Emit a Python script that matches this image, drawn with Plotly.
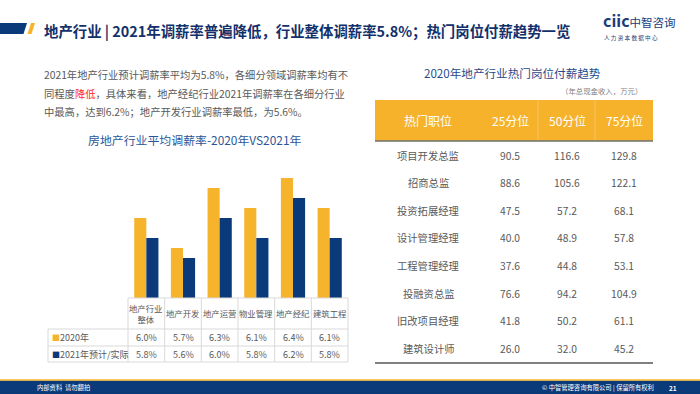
import plotly.graph_objects as go

W, H = 700, 394
def X(px): return px / W
def Y(py): return 1 - py / H

FONT = "Noto Sans CJK SC"
NAVY = "#0B3A7A"
GOLD = "#F6B42C"
GRAY = "#595959"

# ---------------- data ----------------
categories = ["地产行业<br>整体", "地产开发", "地产运营", "物业管理", "地产经纪", "建筑工程"]
rate_2020 = [6.0, 5.7, 6.3, 6.1, 6.4, 6.1]
rate_2021 = [5.8, 5.6, 6.0, 5.8, 6.2, 5.8]
series_names = ["2020年", "2021年预计/实际"]

table_headers = ["热门职位", "25分位", "50分位", "75分位"]
jobs = ["项目开发总监", "招商总监", "投资拓展经理", "设计管理经理",
        "工程管理经理", "投融资总监", "旧改项目经理", "建筑设计师"]
p25 = [90.5, 88.6, 47.5, 40.0, 37.6, 76.6, 41.8, 26.0]
p50 = [116.6, 105.6, 57.2, 48.9, 44.8, 94.2, 50.2, 32.0]
p75 = [129.8, 122.1, 68.1, 57.8, 53.1, 104.9, 61.1, 45.2]

title = "地产行业 | 2021年调薪率普遍降低，行业整体调薪率5.8%；热门岗位付薪趋势一览"
para = [
    "2021年地产行业预计调薪率平均为5.8%，各细分领域调薪率均有不",
    "同程度<span style='color:#FF2A2A'>降低</span>，具体来看，地产经纪行业2021年调薪率在各细分行业",
    "中最高，达到6.2%；地产开发行业调薪率最低，为5.6%。",
]
chart_title = "房地产行业平均调薪率-2020年VS2021年"
table_title = "2020年地产行业热门岗位付薪趋势"
table_unit = "（年总现金收入，万元）"

# ---------------- figure ----------------
fig = go.Figure()
xs = list(range(len(categories)))
fig.add_trace(go.Bar(x=xs, y=rate_2020, name=series_names[0], marker_color=GOLD,
                     marker_line_width=0, hoverinfo="skip"))
fig.add_trace(go.Bar(x=xs, y=rate_2021, name=series_names[1], marker_color=NAVY,
                     marker_line_width=0, hoverinfo="skip"))

TX0, TX1 = 128, 348
fig.update_layout(
    width=W, height=H, margin=dict(l=0, r=0, t=0, b=0),
    paper_bgcolor="white", plot_bgcolor="rgba(0,0,0,0)",
    showlegend=False, barmode="group", bargap=0.34, bargroupgap=0,
    font=dict(family=FONT, color=GRAY),
    xaxis=dict(domain=[X(TX0), X(TX1)], range=[-0.5, len(categories) - 0.5],
               visible=False, fixedrange=True),
    yaxis=dict(domain=[Y(298), Y(148)], range=[5.2, 6.7], visible=False, fixedrange=True),
)

shapes = []
ann = []

def line(x0, y0, x1, y1, color, width=1, xref="paper"):
    shapes.append(dict(type="line", xref=xref, yref="paper",
                       x0=x0, y0=Y(y0), x1=x1, y1=Y(y1),
                       line=dict(color=color, width=width)))

def text(x, y, s, size, color=GRAY, xanchor="center", xref="paper", bold=False):
    ann.append(dict(x=x if xref != "paper" else X(x), y=Y(y), xref=xref, yref="paper",
                    text=f"<b>{s}</b>" if bold else s, showarrow=False,
                    xanchor=xanchor, yanchor="middle",
                    font=dict(size=size, color=color, family=FONT)))

# ---- header ----
def poly(pts, color):
    d = "M " + " L ".join(f"{X(a)},{Y(b)}" for a, b in pts) + " Z"
    shapes.append(dict(type="path", xref="paper", yref="paper", path=d,
                       fillcolor=color, line=dict(width=0)))

poly([(0, 23), (27, 23), (23.5, 34), (0, 34)], NAVY)
poly([(31, 23), (35, 23), (31.5, 34), (27.5, 34)], GOLD)
text(42, 30, title, 14.4, color="#12306A", xanchor="left", bold=True)

# logo
text(601, 20, "<span style='font-size:16px'><b>ciic</b></span>"
     "<span style='font-size:11.5px'>中智咨询</span>", 12, color="#1D3C78", xanchor="left")
text(602, 38, "人 力 资 本 数 据 中 心", 5.6, color="#1D3C78", xanchor="left")

# ---- paragraph ----
for i, s in enumerate(para):
    text(42, 75 + 18.5 * i, s, 10.3, color=GRAY, xanchor="left")

# ---- bar chart title ----
text(195, 140, chart_title, 11.9, color="#2B5597")

# ---- data table under bars ----
GRID = "#D9D9D9"
slot = (TX1 - TX0) / len(categories)
line(X(TX0), 298, X(TX1), 298, GRID)
for yy in (329, 346, 362):
    line(X(48), yy, X(TX1), yy, GRID)
for i in range(len(categories) + 1):
    line(X(TX0 + slot * i), 298, X(TX0 + slot * i), 362, GRID)
line(X(48), 329, X(48), 362, GRID)

for i, c in enumerate(categories):
    text(i, 313, c, 8.4, color=GRAY, xref="x")
    text(i, 337.5, f"{rate_2020[i]:.1f}%", 9, color=GRAY, xref="x")
    text(i, 354, f"{rate_2021[i]:.1f}%", 9, color=GRAY, xref="x")

text(50, 337.5, f"<span style='color:{GOLD};font-size:8px'>■</span>{series_names[0]}", 9,
     color=GRAY, xanchor="left")
text(50, 354, f"<span style='color:{NAVY};font-size:8px'>■</span>{series_names[1]}", 9,
     color=GRAY, xanchor="left")

# ---- right table ----
text(512, 73, table_title, 11.6, color="#1F4A8A")
text(644, 90, table_unit, 7.4, color="#7F7F7F", xanchor="right")

RX0, RX1 = 375, 653
shapes.append(dict(type="rect", xref="paper", yref="paper",
                   x0=X(RX0), x1=X(RX1), y0=Y(141), y1=Y(100),
                   fillcolor="#F5B22A", line=dict(width=0)))
line(X(538), 100, X(538), 141, "rgba(255,255,255,0.25)", 1)
line(X(595), 100, X(595), 141, "rgba(255,255,255,0.25)", 1)
line(X(RX0), 141, X(RX1), 141, "#6F6F6F", 1.5)
line(X(RX0), 363, X(RX1), 363, "#808080", 2)

col_x = [428, 510, 567, 624]
for cx, h in zip(col_x, table_headers):
    text(cx, 120, h, 12, color="white")

for i, j in enumerate(jobs):
    yy = 155 + 27.6 * i
    text(col_x[0], yy, j, 10.3, color=GRAY)
    text(col_x[1], yy, f"{p25[i]:.1f}", 10.3, color=GRAY)
    text(col_x[2], yy, f"{p50[i]:.1f}", 10.3, color=GRAY)
    text(col_x[3], yy, f"{p75[i]:.1f}", 10.3, color=GRAY)

# ---- footer ----
shapes.append(dict(type="rect", xref="paper", yref="paper",
                   x0=0, x1=1, y0=0, y1=Y(380.5),
                   fillcolor=NAVY, line=dict(width=0)))
line(0, 380, 1, 380, GOLD, 1.5)
text(35, 387.5, "内部资料  请勿翻拍", 6.3, color="white", xanchor="left")
text(656, 387.5, "© 中智管理咨询有限公司 | 保留所有权利", 6.3, color="white", xanchor="right")
text(673, 387.5, "<b>21</b>", 6.5, color="white", xanchor="center")

fig.update_layout(shapes=shapes, annotations=ann)
fig.write_html("out.html",
               config={"displayModeBar": False, "staticPlot": True},
               post_script="document.body.style.margin='0';document.body.style.padding='0';"
                           "document.body.style.overflow='hidden';")
